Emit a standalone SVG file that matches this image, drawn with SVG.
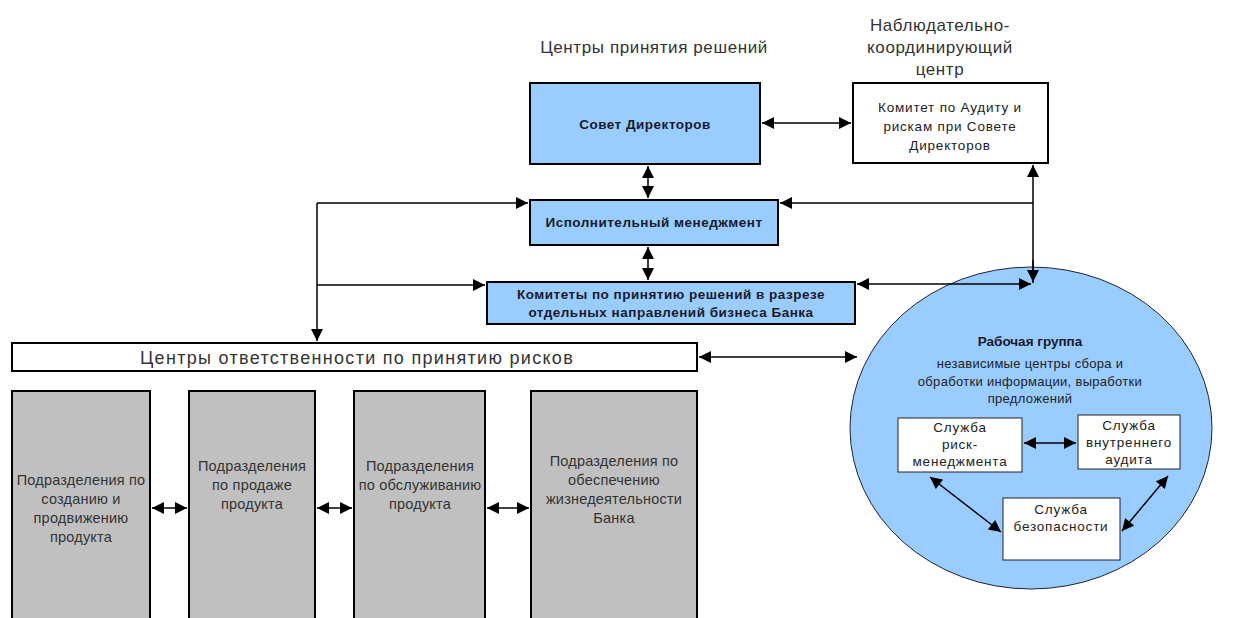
<svg xmlns="http://www.w3.org/2000/svg" width="1233" height="618" viewBox="0 0 1233 618">
<defs>
<marker id="ah" viewBox="0 0 10 10" refX="10" refY="5" markerWidth="14" markerHeight="12" markerUnits="userSpaceOnUse" orient="auto-start-reverse"><path d="M0,0 L10,5 L0,10 z" fill="#000"/></marker>
<style>
.box{stroke:#000;stroke-width:2}
.blue{fill:#99ccff}
.white{fill:#fff}
.gray{fill:#c0c0c0}
.b{font-family:"Liberation Sans",Arial,sans-serif;font-weight:bold;font-size:13.5px;fill:#1a1a2a;text-anchor:middle;letter-spacing:0.5px}
.t{font-family:"Liberation Sans",Arial,sans-serif;font-size:13.5px;fill:#222;text-anchor:middle;letter-spacing:0.8px}
.w{font-family:"Liberation Sans",Arial,sans-serif;font-size:13px;fill:#222;text-anchor:middle;letter-spacing:0.3px}
.h{font-family:"Liberation Sans",Arial,sans-serif;font-size:17px;fill:#333;text-anchor:middle;letter-spacing:0.6px}
.g{font-family:"Liberation Sans",Arial,sans-serif;font-size:14.5px;fill:#333;text-anchor:middle;letter-spacing:0.2px}
.cd{fill:none;stroke:#000;stroke-width:1.5;marker-start:url(#ah);marker-end:url(#ah)}
.ce{fill:none;stroke:#000;stroke-width:1.5;marker-end:url(#ah)}
</style>
</defs>
<rect width="1233" height="618" fill="#fff"/>
<g id="labels">
<text class="h" x="654" y="53">Центры принятия решений</text>
<text class="h" x="940" y="31">Наблюдательно-</text>
<text class="h" x="940" y="53">координирующий</text>
<text class="h" x="940" y="75">центр</text>
</g>
<g id="working-group">
<ellipse cx="1031" cy="428" rx="181" ry="161" class="blue" stroke="#223" stroke-width="1"/>
<text class="b" x="1030" y="346" style="letter-spacing:0">Рабочая группа</text>
<text class="w" x="1030" y="368">независимые центры сбора и</text>
<text class="w" x="1030" y="386">обработки информации, выработки</text>
<text class="w" x="1030" y="403">предложений</text>
</g>
<g id="sovet"><rect class="box blue" x="530" y="83" width="230" height="81"/><text class="b" x="645" y="129">Совет Директоров</text></g>
<g id="audit-committee"><rect class="box white" x="853" y="83" width="195" height="80"/>
<text class="t" x="950" y="112">Комитет по  Аудиту и</text>
<text class="t" x="950" y="131">рискам при Совете</text>
<text class="t" x="950" y="150">Директоров</text></g>
<g id="exec"><rect class="box blue" x="530" y="200" width="248" height="45"/><text class="b" x="654" y="227">Исполнительный  менеджмент</text></g>
<g id="committees"><rect class="box blue" x="487" y="282" width="368" height="42"/>
<text class="b" x="671" y="299">Комитеты по принятию решений в разрезе</text>
<text class="b" x="671" y="317">отдельных  направлений бизнеса Банка</text></g>
<g id="risk-centers"><rect class="box white" x="12" y="343" width="685" height="28"/>
<text x="357" y="364" style="font-family:'Liberation Sans',Arial,sans-serif;font-size:18px;fill:#333;text-anchor:middle;letter-spacing:1.3px">Центры ответственности по принятию рисков</text></g>
<g id="div1"><rect class="box gray" x="12" y="391" width="138" height="240"/>
<text class="g" x="81" y="485">Подразделения по</text><text class="g" x="81" y="504">созданию и</text><text class="g" x="81" y="523">продвижению</text><text class="g" x="81" y="542">продукта</text></g>
<g id="div2"><rect class="box gray" x="189" y="391" width="126" height="240"/>
<text class="g" x="252" y="471">Подразделения</text><text class="g" x="252" y="490">по продаже</text><text class="g" x="252" y="509">продукта</text></g>
<g id="div3"><rect class="box gray" x="354" y="391" width="131" height="240"/>
<text class="g" x="420" y="471">Подразделения</text><text class="g" x="420" y="490">по обслуживанию</text><text class="g" x="420" y="509">продукта</text></g>
<g id="div4"><rect class="box gray" x="531" y="391" width="166" height="240"/>
<text class="g" x="614" y="466">Подразделения по</text><text class="g" x="614" y="485">обеспечению</text><text class="g" x="614" y="504">жизнедеятельности</text><text class="g" x="614" y="523">Банка</text></g>
<g id="risk-mgmt"><rect x="898" y="418" width="124" height="54" fill="#fff" stroke="#222" stroke-width="1"/>
<text class="t" x="960" y="432">Служба</text><text class="t" x="960" y="449">риск-</text><text class="t" x="960" y="466">менеджмента</text></g>
<g id="internal-audit"><rect x="1078" y="415" width="102" height="54" fill="#fff" stroke="#222" stroke-width="1"/>
<text class="t" x="1129" y="430">Служба</text><text class="t" x="1129" y="447">внутреннего</text><text class="t" x="1129" y="464">аудита</text></g>
<g id="security"><rect x="1003" y="498" width="117" height="62" fill="#fff" stroke="#222" stroke-width="1"/>
<text class="t" x="1061" y="514">Служба</text><text class="t" x="1061" y="531">безопасности</text></g>
<g id="connectors">
<line class="cd" x1="762" y1="123" x2="851" y2="123"/>
<line class="cd" x1="648" y1="166" x2="648" y2="198"/>
<line class="cd" x1="648" y1="247" x2="648" y2="280"/>
<polyline class="ce" points="317,203 528,203"/>
<polyline class="ce" points="317,203 317,341"/>
<polyline class="ce" points="317,285 485,285"/>
<polyline class="ce" points="1033,203 780,203"/>
<polyline class="ce" points="1033,283 1033,165"/>
<line class="ce" x1="1033" y1="260" x2="1033" y2="282"/>
<line class="cd" x1="857" y1="284" x2="1031" y2="284"/>
<line class="cd" x1="699" y1="357" x2="857" y2="357"/>
<line class="cd" x1="152" y1="508" x2="187" y2="508"/>
<line class="cd" x1="317" y1="508" x2="352" y2="508"/>
<line class="cd" x1="487" y1="508" x2="529" y2="508"/>
<line class="cd" x1="1024" y1="443" x2="1076" y2="443"/>
<line class="cd" x1="930" y1="477" x2="1001" y2="532"/>
<line class="cd" x1="1168" y1="476" x2="1122" y2="531"/>
</g>
</svg>
